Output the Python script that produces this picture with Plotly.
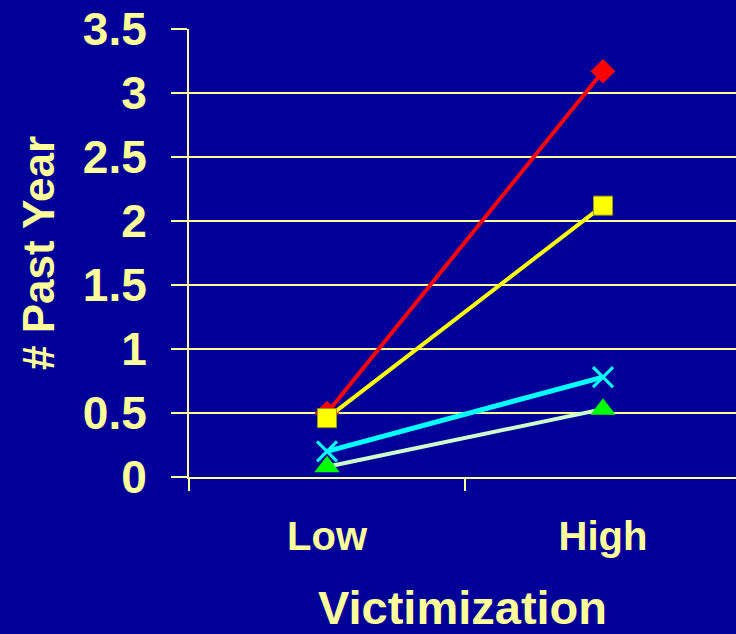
import plotly.graph_objects as go

# Categories and series values (# events in past year by victimization level)
categories = ["Low", "High"]
series_red = [0.50, 3.17]
series_yellow = [0.46, 2.12]
series_cyan = [0.20, 0.78]
series_green = [0.08, 0.53]
y_ticks = [0, 0.5, 1, 1.5, 2, 2.5, 3, 3.5]
y_tick_labels = ["0", "0.5", "1", "1.5", "2", "2.5", "3", "3.5"]

BG = "#000099"
TXT = "#FFFF99"
FONT = "Liberation Sans, Arial, sans-serif"

fig = go.Figure()

fig.add_trace(go.Scatter(
    x=categories, y=series_green, mode="lines+markers",
    line=dict(color="#CCFFCC", width=4),
    marker=dict(symbol="triangle-up", size=22, color="#00FF00", line=dict(width=0)),
))
fig.add_trace(go.Scatter(
    x=categories, y=series_cyan, mode="lines+markers",
    line=dict(color="#00FFFF", width=5),
    marker=dict(symbol="x-thin-open", size=20, color="#00FFFF",
                line=dict(color="#00FFFF", width=3)),
))
fig.add_trace(go.Scatter(
    x=categories, y=series_red, mode="lines+markers",
    line=dict(color="#FF0000", width=4),
    marker=dict(symbol="diamond", size=19, color="#FF0000", line=dict(width=0)),
))
fig.add_trace(go.Scatter(
    x=categories, y=series_yellow, mode="lines+markers",
    line=dict(color="#FFFF00", width=4),
    marker=dict(symbol="square", size=19, color="#FFFF00",
                line=dict(color="#999900", width=1)),
))

fig.update_layout(
    width=736, height=634,
    margin=dict(l=189, r=0, t=29, b=157),
    paper_bgcolor=BG, plot_bgcolor=BG,
    showlegend=False,
    font=dict(family=FONT, color=TXT),
    xaxis=dict(
        type="category",
        range=[-0.5, -0.5 + 547 / 276],
        tickson="boundaries",
        ticks="outside", ticklen=12, tickwidth=2, tickcolor=TXT,
        showgrid=False, zeroline=False,
        showline=True, linecolor=TXT, linewidth=2,
        tickfont=dict(size=40, color=TXT, family=FONT, weight="bold"),
        ticklabelstandoff=23,
        title=dict(text="Victimization", standoff=41,
                   font=dict(size=47, color=TXT, family=FONT, weight="bold")),
    ),
    yaxis=dict(
        range=[0, 3.5],
        tickvals=y_ticks, ticktext=y_tick_labels,
        ticks="outside", ticklen=16, tickwidth=2, tickcolor=TXT,
        showgrid=True, gridcolor=TXT, gridwidth=2,
        zeroline=False,
        showline=True, linecolor=TXT, linewidth=2,
        tickfont=dict(size=46, color=TXT, family=FONT, weight="bold"),
        ticklabelstandoff=15,
        title=dict(text="# Past Year", standoff=14,
                   font=dict(size=44, color=TXT, family=FONT, weight="bold")),
    ),
)

fig.write_html("out.html")
